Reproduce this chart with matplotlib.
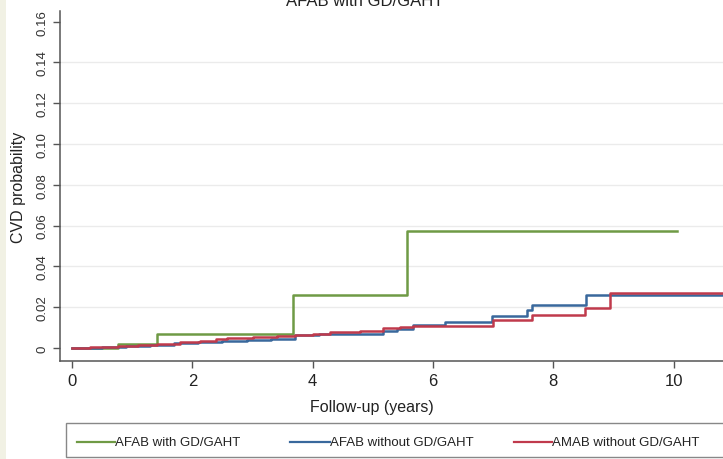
import matplotlib

matplotlib.use("Agg")
import matplotlib.pyplot as plt
from matplotlib.lines import Line2D
from matplotlib.patches import Rectangle

# Kaplan-Meier style cumulative CVD probability
green_t = [0, 0.77, 1.41, 3.68, 5.56, 10.05]
green_p = [0, 0.002, 0.0069, 0.026, 0.0574, 0.0574]

blue_t = [0, 0.5, 0.9, 1.3, 1.7, 2.1, 2.5, 2.9, 3.3, 3.7, 4.1, 4.5, 5.17, 5.4,
          5.67, 6.2, 6.98, 7.56, 7.64, 8.55, 10.82]
blue_p = [0, 0.0005, 0.001, 0.0015, 0.0022, 0.003, 0.0036, 0.004, 0.0044, 0.0062,
          0.0066, 0.0068, 0.0085, 0.0095, 0.0113, 0.0128, 0.0158, 0.0185, 0.021,
          0.0258, 0.0258]

red_t = [0, 0.3, 0.77, 1.1, 1.41, 1.8, 2.13, 2.4, 2.57, 3.0, 3.4, 3.7, 4.0, 4.29,
         4.78, 5.17, 5.45, 5.67, 7.0, 7.64, 8.52, 8.95, 10.82]
red_p = [0, 0.0005, 0.0011, 0.0015, 0.002, 0.0028, 0.0036, 0.0043, 0.005, 0.0054,
         0.0058, 0.0064, 0.007, 0.0077, 0.0085, 0.0097, 0.0103, 0.0108, 0.0135,
         0.0162, 0.0195, 0.0267, 0.0267]

labels = ["AFAB with GD/GAHT", "AFAB without GD/GAHT", "AMAB without GD/GAHT"]
colors = ["#6f9a45", "#39689c", "#c03a4c"]

x_ticks = [0, 2, 4, 6, 8, 10]
y_ticks = [0, 0.02, 0.04, 0.06, 0.08, 0.10, 0.12, 0.14, 0.16]
y_labels = ["0", "0.02", "0.04", "0.06", "0.08", "0.10", "0.12", "0.14", "0.16"]

plt.rcParams["font.family"] = ["Liberation Sans", "DejaVu Sans"]

fig = plt.figure(figsize=(7.23, 4.6), dpi=100)
fig.patch.set_facecolor("white")
fig.add_artist(Rectangle((0, 0), 6 / 723, 1, transform=fig.transFigure,
                         facecolor="#f1f1e4", edgecolor="none"))

ax = fig.add_axes([60 / 723, 98 / 460, 663 / 723, 350 / 460])
ax.set_xlim(-0.2, 10.82)
ax.set_ylim(-0.0064, 0.1652)

for v in y_ticks[1:-1]:
    ax.axhline(v, color="#ebebeb", linewidth=1.0, zorder=0)

for t, p, c in zip([green_t, blue_t, red_t], [green_p, blue_p, red_p], colors):
    ax.step(t, p, where="post", color=c, linewidth=1.8)

for side in ["top", "right"]:
    ax.spines[side].set_visible(False)
for side in ["left", "bottom"]:
    ax.spines[side].set_color("#555555")
    ax.spines[side].set_linewidth(1.1)

ax.set_xticks(x_ticks)
ax.set_xticklabels([str(v) for v in x_ticks], fontsize=12, color="#222222")
ax.set_yticks(y_ticks)
ax.set_yticklabels(y_labels, fontsize=9.5, color="#333333", rotation=90, va="center")
ax.tick_params(axis="both", direction="out", length=5, width=1.0, color="#555555")
ax.tick_params(axis="x", pad=4)
ax.tick_params(axis="y", pad=3)

ax.set_xlabel("Follow-up (years)", fontsize=11.5, color="#222222")
ax.xaxis.set_label_coords((372 - 60) / 663, -0.108)
ax.set_ylabel("CVD probability", fontsize=11.5, color="#222222")
ax.yaxis.set_label_coords(-0.052, 0.5)

# title sits partly above the cropped top edge, as in the original
fig.text(365 / 723, 1.0 - 1 / 460, "AFAB with GD/GAHT", ha="center", va="center",
         fontsize=12, color="#222222")

# legend box (runs past the right edge as in the cropped original)
fig.add_artist(Rectangle((66 / 723, 2 / 460), 700 / 723, 34 / 460,
                         transform=fig.transFigure, facecolor="white",
                         edgecolor="#888888", linewidth=1.0))
leg_x = [(77, 115), (290, 330), (514, 552)]
for (x0, x1), c, lab in zip(leg_x, colors, labels):
    y = (460 - 443) / 460
    fig.add_artist(Line2D([x0 / 723, x1 / 723], [y, y], transform=fig.transFigure,
                          color=c, linewidth=1.6))
    fig.text(x1 / 723, y, lab, ha="left", va="center", fontsize=9.5, color="#222222")

fig.savefig("out.png", dpi=100)
